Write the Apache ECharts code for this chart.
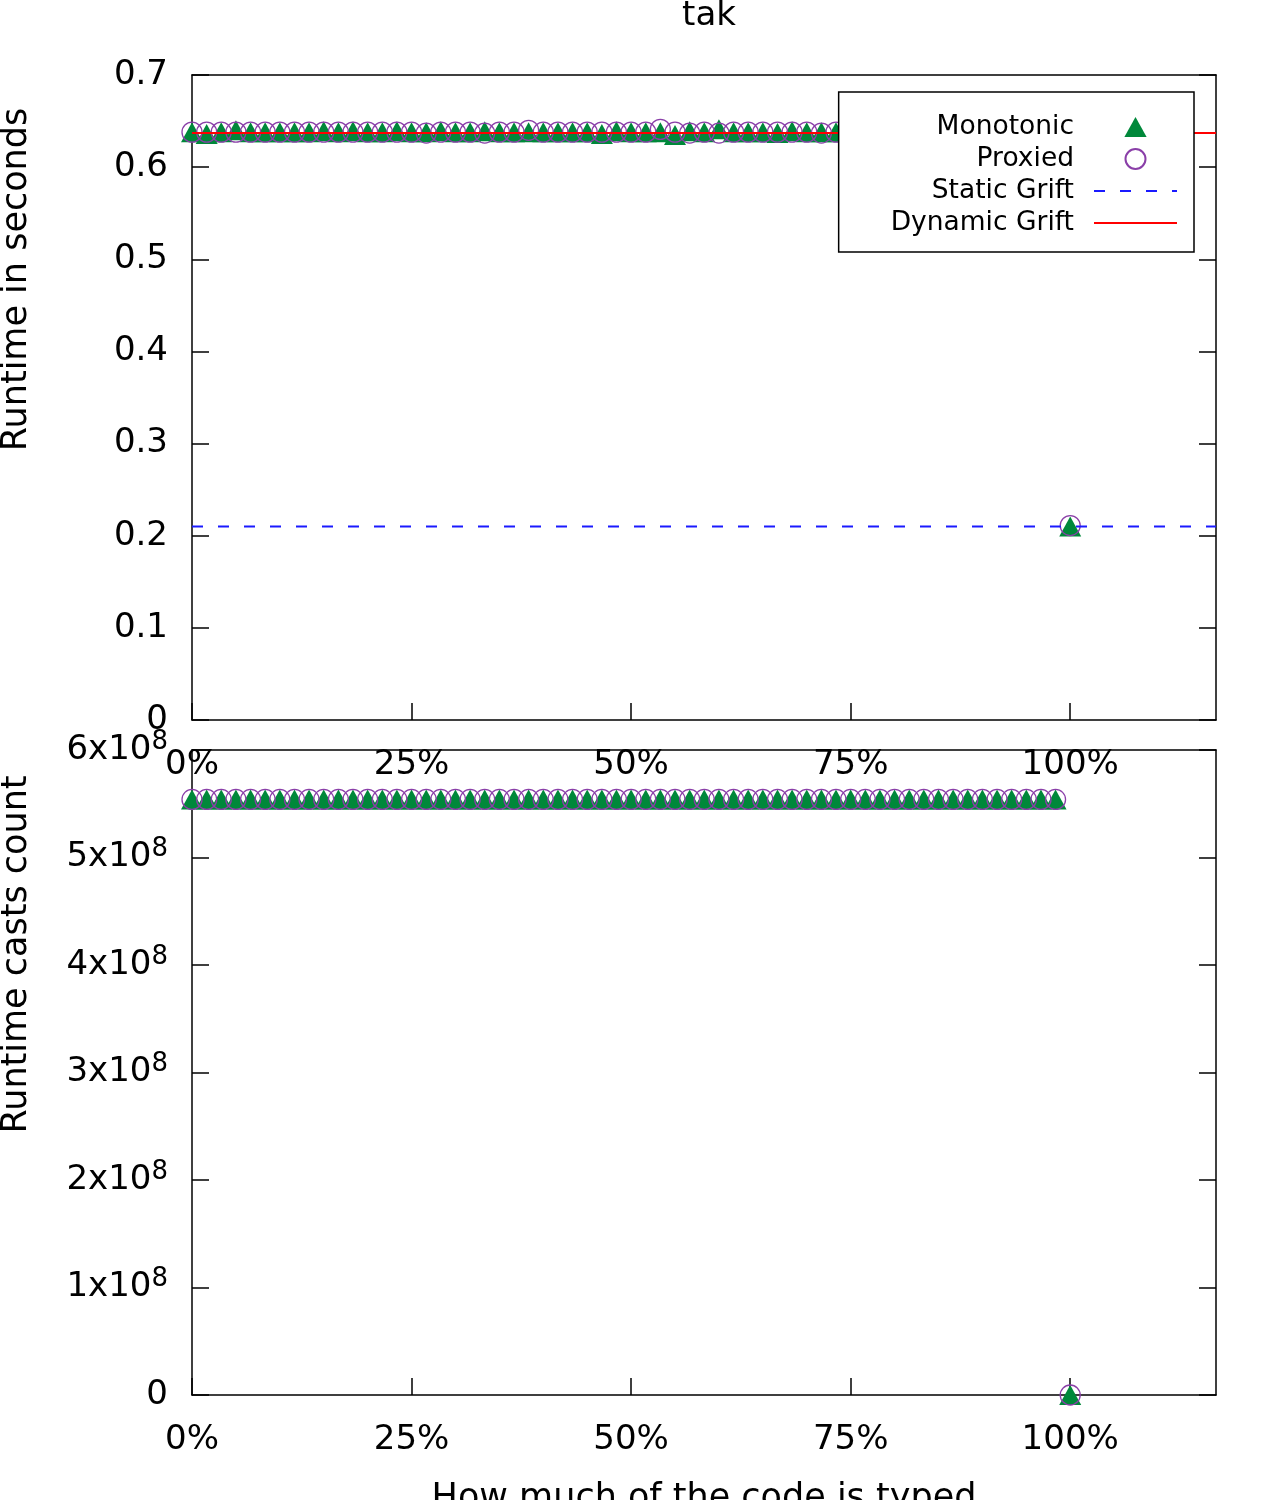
<!DOCTYPE html>
<html>
<head>
<meta charset="utf-8">
<title>tak</title>
<script src="https://cdn.jsdelivr.net/npm/echarts@6/dist/echarts.min.js"></script>
<style>
  html, body { margin: 0; padding: 0; background: #fff; }
  #main { width: 1280px; height: 1500px; }
</style>
</head>
<body>
<div id="main"></div>
<script>
// x positions in percent of code typed
var xPct = [0, 1.67, 3.33, 5, 6.67, 8.33, 10, 11.67, 13.33, 15,
  16.67, 18.33, 20, 21.67, 23.33, 25, 26.67, 28.33, 30, 31.67,
  33.33, 35, 36.67, 38.33, 40, 41.67, 43.33, 45, 46.67, 48.33,
  50, 51.67, 53.33, 55, 56.67, 58.33, 60, 61.67, 63.33, 65,
  66.67, 68.33, 70, 71.67, 73.33, 75, 76.67, 78.33, 80, 81.67,
  83.33, 85, 86.67, 88.33, 90, 91.67, 93.33, 95, 96.67, 98.33,
  100];

// runtime in seconds
var monoTime = [0.638, 0.636, 0.638, 0.640, 0.638, 0.638, 0.638, 0.638, 0.638, 0.639,
  0.638, 0.639, 0.638, 0.638, 0.639, 0.638, 0.638, 0.639, 0.638, 0.638,
  0.639, 0.638, 0.638, 0.638, 0.638, 0.638, 0.638, 0.638, 0.636, 0.639,
  0.638, 0.638, 0.638, 0.635, 0.639, 0.638, 0.641, 0.638, 0.638, 0.638,
  0.637, 0.639, 0.638, 0.638, 0.638, 0.638, 0.638, 0.638, 0.638, 0.638,
  0.638, 0.638, 0.638, 0.638, 0.638, 0.638, 0.638, 0.638, 0.638, 0.638,
  0.210];
var proxTime = [0.638, 0.638, 0.638, 0.638, 0.638, 0.638, 0.638, 0.638, 0.638, 0.638,
  0.638, 0.638, 0.638, 0.638, 0.638, 0.638, 0.637, 0.638, 0.638, 0.638,
  0.637, 0.638, 0.638, 0.640, 0.638, 0.638, 0.638, 0.638, 0.638, 0.638,
  0.638, 0.638, 0.641, 0.638, 0.637, 0.638, 0.637, 0.638, 0.638, 0.638,
  0.638, 0.638, 0.638, 0.637, 0.638, 0.638, 0.638, 0.638, 0.638, 0.638,
  0.638, 0.638, 0.638, 0.638, 0.638, 0.638, 0.638, 0.638, 0.638, 0.638,
  0.211];
var staticGrift = 0.21;
var dynamicGrift = 0.637;

// runtime casts count
var monoCasts = [5.54e8, 5.54e8, 5.54e8, 5.54e8, 5.54e8, 5.54e8, 5.54e8, 5.54e8, 5.54e8, 5.54e8,
  5.54e8, 5.54e8, 5.54e8, 5.54e8, 5.54e8, 5.54e8, 5.54e8, 5.54e8, 5.54e8, 5.54e8,
  5.54e8, 5.54e8, 5.54e8, 5.54e8, 5.54e8, 5.54e8, 5.54e8, 5.54e8, 5.54e8, 5.54e8,
  5.54e8, 5.54e8, 5.54e8, 5.54e8, 5.54e8, 5.54e8, 5.54e8, 5.54e8, 5.54e8, 5.54e8,
  5.54e8, 5.54e8, 5.54e8, 5.54e8, 5.54e8, 5.54e8, 5.54e8, 5.54e8, 5.54e8, 5.54e8,
  5.54e8, 5.54e8, 5.54e8, 5.54e8, 5.54e8, 5.54e8, 5.54e8, 5.54e8, 5.54e8, 5.54e8,
  0];
var proxCasts = [5.54e8, 5.54e8, 5.54e8, 5.54e8, 5.54e8, 5.54e8, 5.54e8, 5.54e8, 5.54e8, 5.54e8,
  5.54e8, 5.54e8, 5.54e8, 5.54e8, 5.54e8, 5.54e8, 5.54e8, 5.54e8, 5.54e8, 5.54e8,
  5.54e8, 5.54e8, 5.54e8, 5.54e8, 5.54e8, 5.54e8, 5.54e8, 5.54e8, 5.54e8, 5.54e8,
  5.54e8, 5.54e8, 5.54e8, 5.54e8, 5.54e8, 5.54e8, 5.54e8, 5.54e8, 5.54e8, 5.54e8,
  5.54e8, 5.54e8, 5.54e8, 5.54e8, 5.54e8, 5.54e8, 5.54e8, 5.54e8, 5.54e8, 5.54e8,
  5.54e8, 5.54e8, 5.54e8, 5.54e8, 5.54e8, 5.54e8, 5.54e8, 5.54e8, 5.54e8, 5.54e8,
  0];

var xRange = [0, 116.6];
var xTicks = [0, 25, 50, 75, 100];

var FONT = 'DejaVu Sans';
var GREEN = '#00883a';
var PURPLE = '#8a3fa8';
var TRIANGLE = 'path://M10,0L20,18L0,18Z';

function pairs(xs, ys) {
  return xs.map(function (x, i) { return [x, ys[i]]; });
}

var chart = echarts.init(document.getElementById('main'), null, { renderer: 'canvas' });

function bottomX(gridIndex, name) {
  return {
    type: 'value', gridIndex: gridIndex, position: 'bottom',
    min: xRange[0], max: xRange[1], interval: 25,
    name: name || '', nameLocation: 'middle', nameGap: 86,
    nameTextStyle: { fontFamily: FONT, fontSize: 35, color: '#000' },
    axisLine: { show: true, onZero: false, lineStyle: { color: '#000', width: 1.5 } },
    axisTick: { show: true, inside: true, length: 17, lineStyle: { color: '#000', width: 1.5 } },
    axisLabel: {
      show: true, margin: 28, showMaxLabel: false,
      fontFamily: FONT, fontSize: 34, color: '#000',
      formatter: function (v) { return xTicks.indexOf(v) >= 0 ? v + '%' : ''; }
    },
    splitLine: { show: false }
  };
}
function topX(gridIndex) {
  return {
    type: 'value', gridIndex: gridIndex, position: 'top',
    min: xRange[0], max: xRange[1], interval: 25,
    axisLine: { show: true, onZero: false, lineStyle: { color: '#000', width: 1.5 } },
    axisTick: { show: false }, axisLabel: { show: false }, splitLine: { show: false }
  };
}
function leftY(gridIndex, opt) {
  return Object.assign({
    type: 'value', gridIndex: gridIndex, position: 'left',
    nameLocation: 'middle', nameGap: 158, nameRotate: 90,
    // shift the rotated name up, as in the original layout
    nameTextStyle: { fontFamily: FONT, fontSize: 35, color: '#000', padding: [0, 0, 0, 236] },
    axisLine: { show: true, onZero: false, lineStyle: { color: '#000', width: 1.5 } },
    axisTick: { show: true, inside: true, length: 17, lineStyle: { color: '#000', width: 1.5 } },
    splitLine: { show: false }
  }, opt);
}
function rightY(gridIndex, opt) {
  return Object.assign({
    type: 'value', gridIndex: gridIndex, position: 'right',
    axisLine: { show: true, onZero: false, lineStyle: { color: '#000', width: 1.5 } },
    axisTick: { show: true, inside: true, length: 17, lineStyle: { color: '#000', width: 1.5 } },
    axisLabel: { show: false }, splitLine: { show: false }
  }, opt);
}

chart.setOption({
  animation: false,
  backgroundColor: '#fff',
  title: {
    text: 'tak', left: 704, top: -6, textAlign: 'center',
    textStyle: { fontFamily: FONT, fontSize: 34, fontWeight: 'normal', color: '#000' }
  },
  legend: {
    orient: 'vertical', align: 'right',
    right: 86, top: 92,
    padding: [19, 16, 13, 52],
    itemGap: 0, itemWidth: 83, itemHeight: 20,
    symbolKeepAspect: true,
    backgroundColor: '#fff', borderColor: '#000', borderWidth: 1.5, borderRadius: 0,
    textStyle: { fontFamily: FONT, fontSize: 26.5, color: '#000', lineHeight: 32, padding: [0, 15, 0, 0] },
    data: [
      { name: 'Monotonic' },
      { name: 'Proxied' },
      { name: 'Static Grift', itemStyle: { opacity: 0 } },
      { name: 'Dynamic Grift', itemStyle: { opacity: 0 } }
    ]
  },
  grid: [
    { left: 192, right: 64, top: 75, height: 645, outerBoundsMode: 'none', containLabel: false },
    { left: 192, right: 64, top: 750, height: 645, outerBoundsMode: 'none', containLabel: false }
  ],
  xAxis: [bottomX(0), topX(0), bottomX(1, 'How much of the code is typed'), topX(1)],
  yAxis: [
    leftY(0, {
      name: 'Runtime in seconds', min: 0, max: 0.7, interval: 0.1,
      axisLabel: { margin: 24, fontFamily: FONT, fontSize: 34, color: '#000',
        formatter: function (v) { return v === 0 ? '0' : v.toFixed(1); } }
    }),
    rightY(0, { min: 0, max: 0.7, interval: 0.1 }),
    leftY(1, {
      name: 'Runtime casts count', min: 0, max: 6e8, interval: 1e8,
      axisLabel: {
        margin: 24, fontFamily: FONT, fontSize: 34, color: '#000',
        formatter: function (v) {
          return v === 0 ? '{m|0}' : '{m|' + Math.round(v / 1e8) + 'x10}{s|8}';
        },
        rich: {
          m: { fontFamily: FONT, fontSize: 34, color: '#000', lineHeight: 42 },
          s: { fontFamily: FONT, fontSize: 26, color: '#000', lineHeight: 26, verticalAlign: 'top' }
        }
      }
    }),
    rightY(1, { min: 0, max: 6e8, interval: 1e8 })
  ],
  series: [
    {
      name: 'Monotonic', type: 'scatter', xAxisIndex: 0, yAxisIndex: 0,
      symbol: TRIANGLE, symbolSize: [22, 20], symbolKeepAspect: false, clip: false,
      itemStyle: { color: GREEN, opacity: 1 },
      data: pairs(xPct, monoTime)
    },
    {
      name: 'Proxied', type: 'scatter', xAxisIndex: 0, yAxisIndex: 0,
      symbol: 'circle', symbolSize: 20, clip: false,
      itemStyle: { color: 'rgba(0,0,0,0)', borderColor: PURPLE, borderWidth: 1.3, opacity: 1 },
      data: pairs(xPct, proxTime)
    },
    {
      name: 'Static Grift', type: 'line', xAxisIndex: 0, yAxisIndex: 0,
      symbol: 'none', showSymbol: false,
      lineStyle: { color: '#1a1aff', width: 2, type: [11, 15] },
      itemStyle: { color: '#1a1aff' },
      data: xRange.map(function (x) { return [x, staticGrift]; })
    },
    {
      name: 'Dynamic Grift', type: 'line', xAxisIndex: 0, yAxisIndex: 0,
      symbol: 'none', showSymbol: false,
      lineStyle: { color: '#ff0000', width: 2 },
      itemStyle: { color: '#ff0000' },
      data: xRange.map(function (x) { return [x, dynamicGrift]; })
    },
    {
      name: 'Monotonic', type: 'scatter', xAxisIndex: 2, yAxisIndex: 2,
      symbol: TRIANGLE, symbolSize: [22, 20], symbolKeepAspect: false, clip: false,
      itemStyle: { color: GREEN, opacity: 1 },
      data: pairs(xPct, monoCasts)
    },
    {
      name: 'Proxied', type: 'scatter', xAxisIndex: 2, yAxisIndex: 2,
      symbol: 'circle', symbolSize: 20, clip: false,
      itemStyle: { color: 'rgba(0,0,0,0)', borderColor: PURPLE, borderWidth: 1.3, opacity: 1 },
      data: pairs(xPct, proxCasts)
    }
  ]
});
</script>
</body>
</html>
